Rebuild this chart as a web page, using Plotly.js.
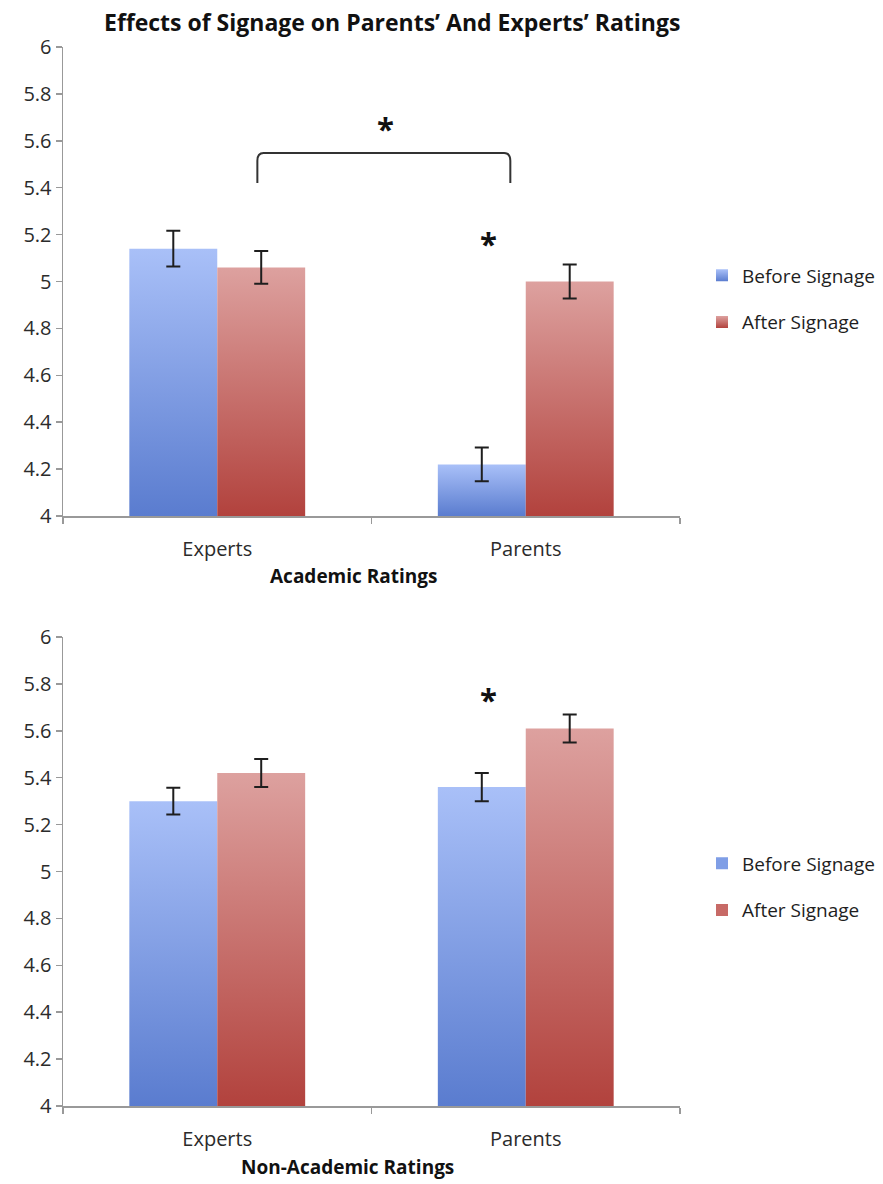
<!DOCTYPE html>
<html>
<head>
<meta charset="utf-8">
<script src="https://cdn.plot.ly/plotly-3.0.1.min.js"></script>
<style>
  html, body { margin: 0; padding: 0; background: #fff; }
  #chart { width: 883px; height: 1184px; }
</style>
</head>
<body>
<div id="chart"></div>
<script>
// ---- data ----
const categories = ['Experts', 'Parents'];
const seriesNames = ['Before Signage', 'After Signage'];

const academicBefore = [5.14, 4.22];
const academicBeforeErr = [0.076, 0.072];
const academicAfter = [5.06, 5.00];
const academicAfterErr = [0.07, 0.072];

const nonAcademicBefore = [5.30, 5.36];
const nonAcademicBeforeErr = [0.057, 0.06];
const nonAcademicAfter = [5.42, 5.61];
const nonAcademicAfterErr = [0.06, 0.06];

const yTicks = [4, 4.2, 4.4, 4.6, 4.8, 5, 5.2, 5.4, 5.6, 5.8, 6];

// ---- style ----
const FONT = 'Open Sans, Noto Sans, sans-serif';
const blueMid = '#7f9ee6';
const redMid = '#c76a66';

function barTrace(name, x, y, err, color, xa, ya, legend) {
  return {
    type: 'bar', name: name, x: x, y: y,
    xaxis: xa, yaxis: ya, legend: legend, legendgroup: name,
    marker: { color: color, line: { width: 0 } },
    error_y: { type: 'data', array: err, visible: true, color: '#1e1e1e', thickness: 2, width: 7 },
    hoverinfo: 'skip'
  };
}

const data = [
  barTrace(seriesNames[0], categories, academicBefore, academicBeforeErr, blueMid, 'x', 'y', 'legend'),
  barTrace(seriesNames[1], categories, academicAfter, academicAfterErr, redMid, 'x', 'y', 'legend'),
  barTrace(seriesNames[0], categories, nonAcademicBefore, nonAcademicBeforeErr, blueMid, 'x2', 'y2', 'legend2'),
  barTrace(seriesNames[1], categories, nonAcademicAfter, nonAcademicAfterErr, redMid, 'x2', 'y2', 'legend2')
];

const xaxisBase = {
  type: 'category', range: [-0.5, 1.5], showgrid: false, zeroline: false,
  showline: true, linecolor: '#999999', linewidth: 1.5,
  ticks: 'outside', tickson: 'boundaries', ticklen: 6, tickcolor: '#999999', tickwidth: 1.5,
  ticklabelstandoff: 14,
  tickfont: { family: FONT, size: 20, color: '#2b2b2b' }, fixedrange: true
};
const yaxisBase = {
  range: [4, 6], tickvals: yTicks, showgrid: false, zeroline: false,
  showline: true, linecolor: '#999999', linewidth: 1.5,
  ticks: 'outside', ticklen: 6, tickcolor: '#999999', tickwidth: 1.5,
  tickfont: { family: FONT, size: 20, color: '#2b2b2b' }, fixedrange: true
};

const xDom = [63 / 883, 680 / 883];
const topDom = [1 - 516 / 1184, 1 - 47 / 1184];
const botDom = [1 - 1106 / 1184, 1 - 637 / 1184];

const legendBase = {
  font: { family: FONT, size: 19, color: '#1e1e1e' },
  traceorder: 'grouped', tracegroupgap: 19,
  bgcolor: 'rgba(0,0,0,0)', xanchor: 'left', yanchor: 'middle', itemwidth: 30
};

const layout = {
  width: 883, height: 1184,
  margin: { l: 0, r: 0, t: 0, b: 0 },
  paper_bgcolor: '#ffffff', plot_bgcolor: '#ffffff',
  barmode: 'group', bargap: 0.43, bargroupgap: 0,
  showlegend: true,
  xaxis: Object.assign({}, xaxisBase, { domain: xDom, anchor: 'y' }),
  yaxis: Object.assign({}, yaxisBase, { domain: topDom, anchor: 'x' }),
  xaxis2: Object.assign({}, xaxisBase, { domain: xDom, anchor: 'y2' }),
  yaxis2: Object.assign({}, yaxisBase, { domain: botDom, anchor: 'x2' }),
  legend: Object.assign({}, legendBase, { x: 702 / 883, y: 1 - 299 / 1184 }),
  legend2: Object.assign({}, legendBase, { x: 702 / 883, y: 1 - 887 / 1184 }),
  annotations: [
    { text: '<b>Effects of Signage on Parents’ And Experts’ Ratings</b>', xref: 'paper', yref: 'paper',
      x: 392 / 883, y: 1 - 22 / 1184, xanchor: 'center', yanchor: 'middle', showarrow: false,
      font: { family: FONT, size: 23, color: '#111' } },
    { text: '<b>Academic Ratings</b>', xref: 'paper', yref: 'paper',
      x: 354 / 883, y: 1 - 576 / 1184, xanchor: 'center', yanchor: 'middle', showarrow: false,
      font: { family: FONT, size: 19, color: '#111' } },
    { text: '<b>Non-Academic Ratings</b>', xref: 'paper', yref: 'paper',
      x: 347 / 883, y: 1 - 1167 / 1184, xanchor: 'center', yanchor: 'middle', showarrow: false,
      font: { family: FONT, size: 19, color: '#111' } },
    { text: '<b>*</b>', xref: 'x', yref: 'y', x: 0.544, y: 5.654, showarrow: false,
      xanchor: 'center', yanchor: 'middle', font: { family: FONT, size: 31, color: '#111' } },
    { text: '<b>*</b>', xref: 'x', yref: 'y', x: 0.878, y: 5.164, showarrow: false,
      xanchor: 'center', yanchor: 'middle', font: { family: FONT, size: 31, color: '#111' } },
    { text: '<b>*</b>', xref: 'x2', yref: 'y2', x: 0.878, y: 5.734, showarrow: false,
      xanchor: 'center', yanchor: 'middle', font: { family: FONT, size: 31, color: '#111' } }
  ],
  shapes: [
    { type: 'path', xref: 'x', yref: 'y',
      path: 'M 0.13 5.42 L 0.13 5.515 Q 0.13 5.548 0.15 5.548 L 0.93 5.548 Q 0.95 5.548 0.95 5.515 L 0.95 5.42',
      line: { color: '#333', width: 2 } }
  ]
};

Plotly.newPlot('chart', data, layout, { displayModeBar: false, staticPlot: true }).then(function (gd) {
  const svg = gd.querySelector('.main-svg');
  const ns = 'http://www.w3.org/2000/svg';
  let defs = svg.querySelector('defs');
  if (!defs) { defs = document.createElementNS(ns, 'defs'); svg.insertBefore(defs, svg.firstChild); }
  let gid = 0;
  function grad(top, bottom, y1, y2, user) {
    const id = 'grad' + (gid++);
    const g = document.createElementNS(ns, 'linearGradient');
    g.setAttribute('id', id);
    if (user) {
      g.setAttribute('gradientUnits', 'userSpaceOnUse');
      g.setAttribute('x1', '0'); g.setAttribute('x2', '0');
      g.setAttribute('y1', String(y1)); g.setAttribute('y2', String(y2));
    } else {
      g.setAttribute('x1', '0'); g.setAttribute('y1', '0');
      g.setAttribute('x2', '0'); g.setAttribute('y2', '1');
    }
    const s1 = document.createElementNS(ns, 'stop');
    s1.setAttribute('offset', '0'); s1.setAttribute('stop-color', top);
    const s2 = document.createElementNS(ns, 'stop');
    s2.setAttribute('offset', '1'); s2.setAttribute('stop-color', bottom);
    g.appendChild(s1); g.appendChild(s2); defs.appendChild(g);
    return 'url(#' + id + ')';
  }
  const colors = {};
  colors[blueMid] = ['#a9c0f8', '#5a7ccf'];
  colors[redMid] = ['#dda19f', '#b2423d'];
  gd.querySelectorAll('.barlayer .trace').forEach(function (tr) {
    const d = tr.__data__;
    if (!d || !d[0] || !d[0].trace) return;
    const trace = d[0].trace;
    const c = colors[trace.marker.color];
    const ya = gd._fullLayout[trace.yaxis === 'y2' ? 'yaxis2' : 'yaxis'];
    const bottom = ya._length;
    tr.querySelectorAll('.point path').forEach(function (p) {
      const bb = p.getBBox();
      p.style.fill = grad(c[0], c[1], bb.y, bottom, true);
    });
  });
  gd.querySelectorAll('.legend .traces').forEach(function (tr) {
    const d = tr.__data__;
    if (!d || !d[0] || !d[0].trace) return;
    const c = colors[d[0].trace.marker.color];
    const f = grad(c[0], c[1], 0, 1, false);
    tr.querySelectorAll('.legendpoints path').forEach(function (p) { p.style.fill = f; });
  });
});
</script>
</body>
</html>
